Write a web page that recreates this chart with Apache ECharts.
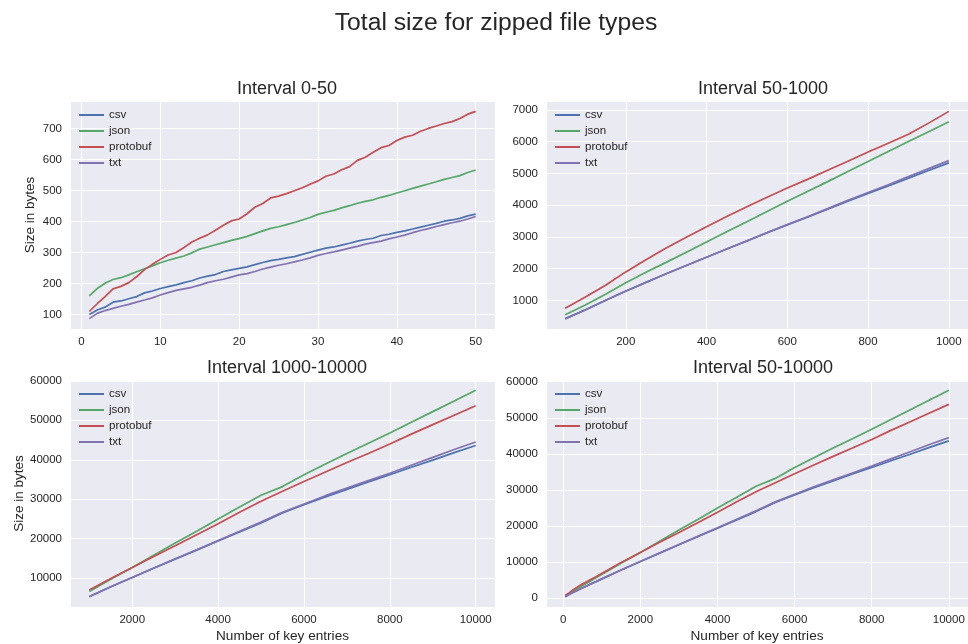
<!DOCTYPE html>
<html>
<head>
<meta charset="utf-8">
<script src="https://cdn.jsdelivr.net/npm/echarts@6/dist/echarts.min.js"></script>
<style>html,body{margin:0;padding:0;background:#fff}#c{width:968px;height:644px}</style>
</head>
<body>
<div id="c"></div>
<script>
// ---------- data ----------
const seriesNames = ['csv', 'json', 'protobuf', 'txt'];
const seriesColors = ['#4C72B0', '#55A868', '#C44E52', '#8172B2'];

const subplotTitles = ['Interval 0-50', 'Interval 50-1000', 'Interval 1000-10000', 'Interval 50-10000'];

// Interval 0-50
const xSmall = [1,2,3,4,5,6,7,8,9,10,11,12,13,14,15,16,17,18,19,20,21,22,23,24,25,26,27,28,29,30,31,32,33,34,35,36,37,38,39,40,41,42,43,44,45,46,47,48,49,50];
const csvSmall = [100,115,124,140,144,151,158,170,176,184,190,196,203,209,218,224,229,239,244,249,254,261,268,274,278,283,287,294,301,308,314,318,324,330,337,342,346,355,359,365,370,376,382,388,394,401,405,410,418,424];
const jsonSmall = [160,184,201,213,219,228,238,248,257,267,275,282,289,299,311,318,325,332,339,345,352,361,370,378,383,390,397,405,413,423,430,436,444,451,459,465,470,478,484,492,499,507,514,521,528,536,542,548,558,566];
const protobufSmall = [110,135,158,183,191,203,222,245,262,278,292,300,316,334,346,357,372,388,402,408,425,446,458,476,482,490,499,509,520,531,546,553,567,577,597,607,623,638,645,661,672,678,691,700,708,716,722,732,746,755];
const txtSmall = [87,104,113,120,127,133,140,147,154,163,171,178,183,188,195,203,209,214,221,228,232,239,247,253,259,264,270,276,283,291,297,302,308,314,320,327,332,337,344,350,356,364,371,377,384,390,396,401,408,416];

// Interval 50-1000
const xMid = [50,100,150,200,250,300,350,400,450,500,550,600,650,700,750,800,850,900,950,1000];
const csvMid = [430,710,1010,1300,1570,1840,2100,2360,2620,2870,3130,3380,3620,3870,4120,4370,4600,4850,5090,5330];
const jsonMid = [550,860,1200,1560,1890,2200,2520,2840,3160,3480,3800,4120,4430,4740,5060,5370,5690,6000,6310,6620];
const protobufMid = [760,1110,1480,1900,2280,2650,2990,3320,3640,3950,4250,4540,4810,5100,5380,5670,5950,6230,6580,6950];
const txtMid = [420,700,1000,1290,1565,1840,2100,2360,2620,2875,3135,3390,3635,3890,4150,4400,4640,4900,5150,5400];

// Interval 1000-10000
const xLarge = [1000,1500,2000,2500,3000,3500,4000,4500,5000,5500,6000,6500,7000,7500,8000,8500,9000,9500,10000];
const csvLarge = [5350,7800,10150,12500,14800,17100,19400,21700,24000,26500,28600,30600,32500,34400,36200,38100,39900,41800,43600];
const jsonLarge = [6600,9700,12700,15800,18900,21900,25000,28000,31000,33200,36200,38900,41600,44200,46800,49500,52200,54900,57600];
const protobufLarge = [7000,9900,12700,15500,18200,21000,23800,26700,29500,32000,34500,36900,39300,41600,44000,46500,48900,51300,53700];
const txtLarge = [5300,7800,10150,12550,14900,17200,19500,21900,24200,26700,28800,30900,32800,34700,36600,38600,40600,42600,44500];

// axis extents (matplotlib-style 5% margins)
const xExtents = [[-1.45, 52.45], [2.5, 1047.5], [550, 10450], [-447.5, 10497.5]];
const yExtents = [[53.6, 788.4], [104, 7276], [2685, 60215], [-2430, 60460]];

// ---------- build ----------
const FONT = '"Liberation Sans", Arial, sans-serif';
const TXT = '#262626';

function pairs(xs, ys) { return xs.map((x, i) => [x, ys[i]]); }
const midBelow = xMid.map((x, i) => i).filter(i => xMid[i] < 1000);
const xAll = midBelow.map(i => xMid[i]).concat(xLarge);
function joinAll(mid, large) { return midBelow.map(i => mid[i]).concat(large); }

const panels = [
  { xs: xSmall, ys: [csvSmall, jsonSmall, protobufSmall, txtSmall] },
  { xs: xMid, ys: [csvMid, jsonMid, protobufMid, txtMid] },
  { xs: xLarge, ys: [csvLarge, jsonLarge, protobufLarge, txtLarge] },
  { xs: xAll, ys: [joinAll(csvMid, csvLarge), joinAll(jsonMid, jsonLarge), joinAll(protobufMid, protobufLarge), joinAll(txtMid, txtLarge)] }
];

const gridBoxes = [
  { left: 70, top: 101, width: 425, height: 228 },
  { left: 546, top: 101, width: 426, height: 228 },
  { left: 70, top: 380, width: 425, height: 227 },
  { left: 546, top: 380, width: 426, height: 227 }
];

const grid = gridBoxes.map(b => Object.assign({ show: true, backgroundColor: '#EAEAF2', borderWidth: 0 }, b));

function valueAxis(i, ext, isX) {
  return {
    type: 'value', gridIndex: i, min: ext[0], max: ext[1],
    axisLine: { show: false }, axisTick: { show: false },
    splitLine: { show: true, lineStyle: { color: '#ffffff', width: 1 } },
    axisLabel: {
      color: TXT, fontSize: 11.5, fontFamily: FONT, margin: isX ? 7 : 8,
      showMinLabel: false, showMaxLabel: false,
      formatter: v => String(v)
    }
  };
}
const xAxis = xExtents.map((e, i) => {
  const a = valueAxis(i, e, true);
  if (i >= 2) {
    a.name = 'Number of key entries';
    a.nameLocation = 'middle';
    a.nameGap = 22;
    a.nameMoveOverlap = false;
    a.nameTextStyle = { color: TXT, fontSize: 13.6, fontFamily: FONT };
  }
  return a;
});
const yAxis = yExtents.map((e, i) => {
  const a = valueAxis(i, e, false);
  if (i === 0 || i === 2) {
    a.name = 'Size in bytes';
    a.nameLocation = 'middle';
    a.nameGap = i === 0 ? 33 : 44;
    a.nameMoveOverlap = false;
    a.nameTextStyle = { color: TXT, fontSize: 13.5, fontFamily: FONT };
  }
  return a;
});

const title = [{
  text: 'Total size for zipped file types', left: 491, top: 6, textAlign: 'center',
  textStyle: { color: TXT, fontSize: 24.7, fontWeight: 'normal', fontFamily: FONT }
}].concat(subplotTitles.map((t, i) => ({
  text: t,
  left: gridBoxes[i].left + 212,
  top: gridBoxes[i].top - 26,
  textAlign: 'center',
  textStyle: { color: TXT, fontSize: 18, fontWeight: 'normal', fontFamily: FONT }
})));

const legend = gridBoxes.map(b => ({
  data: seriesNames, orient: 'vertical', left: b.left + 9, top: b.top + 7,
  icon: 'rect', itemWidth: 25, itemHeight: 2, itemGap: 2, itemTextGap: 9, padding: 0,
  textStyle: { color: TXT, fontSize: 11.6, fontFamily: FONT, lineHeight: 14 }
}));

const series = [];
panels.forEach((p, gi) => {
  p.ys.forEach((ys, si) => {
    series.push({
      type: 'line', name: seriesNames[si], xAxisIndex: gi, yAxisIndex: gi,
      data: pairs(p.xs, ys), showSymbol: false, symbol: 'none',
      lineStyle: { color: seriesColors[si], width: 1.7 },
      itemStyle: { color: seriesColors[si] },
      emphasis: { disabled: true }
    });
  });
});

const chart = echarts.init(document.getElementById('c'), null, { renderer: 'canvas' });
chart.setOption({ animation: false, backgroundColor: '#ffffff', title, legend, grid, xAxis, yAxis, series });
</script>
</body>
</html>
